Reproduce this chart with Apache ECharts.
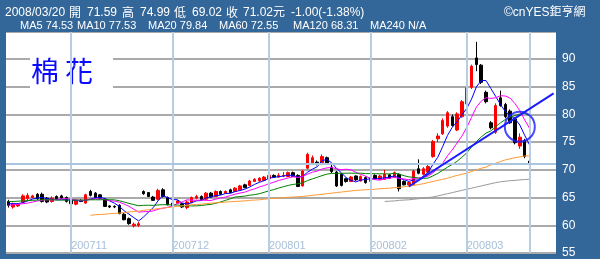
<!DOCTYPE html>
<html><head><meta charset="utf-8">
<script src="https://cdn.jsdelivr.net/npm/echarts@6/dist/echarts.min.js"></script>
<style>html,body{margin:0;padding:0;background:#336699;overflow:hidden}#c{width:600px;height:259px}</style>
</head><body><div id="c"></div><script>
const months = ['200710','200711','200712','200801','200802','200803'];
const monthDays = [13,21,20,21,20,14];
const padDays = 5;

const opens = [64.3,63.3,63.5,64.2,64.8,65.0,65.6,65.6,64.9,64.3,
65.2,65.3,65.0,64.6,63.8,64.5,64.0,66.1,65.8,65.5,
64.7,63.5,63.4,63.6,62.0,61.2,59.9,60.0,66.1,65.9,
65.1,64.7,66.4,65.0,64.0,64.0,63.9,63.2,64.1,64.9,
65.2,64.7,65.8,65.2,66.1,65.8,66.4,66.1,66.4,67.3,
67.2,67.9,68.0,68.1,68.4,69.0,68.7,68.9,68.8,69.5,
69.0,67.1,70.3,71.2,71.4,71.3,72.2,70.5,69.6,69.2,
68.4,67.9,68.9,68.0,68.6,67.9,69.0,68.3,68.3,69.1,
68.7,69.2,67.9,67.3,67.4,70.2,69.2,69.6,72.4,75.6,
76.5,77.9,79.6,77.2,79.6,81.9,84.9,90.2,88.9,84.0,
78.5,76.8,83.0,81.8,80.6,79.2,74.3,75.3,71.59];
const closes = [63.6,63.9,63.8,65.3,65.4,65.3,64.8,64.3,64.2,64.9,
64.8,64.9,64.3,63.9,64.5,64.3,65.5,65.4,65.0,64.9,
63.4,63.3,63.3,62.1,61.0,60.3,60.2,60.3,65.7,65.2,
64.5,66.3,65.2,63.7,63.5,64.4,63.3,64.2,65.0,65.2,
64.6,65.8,65.1,66.1,65.6,66.1,65.9,66.7,67.1,66.8,
68.0,68.3,68.5,68.7,69.0,68.7,69.0,69.0,69.5,68.8,
67.0,69.8,72.8,72.2,71.0,72.4,71.1,69.7,67.1,67.2,
67.9,68.7,68.2,68.8,67.7,68.6,68.4,68.9,69.2,68.5,
69.5,66.6,67.3,67.7,69.8,69.4,70.2,70.6,75.1,76.1,
78.9,80.3,78.0,80.1,82.3,84.8,88.7,89.0,85.8,82.3,
77.6,81.6,81.6,79.6,78.5,74.9,75.9,72.4,71.02];
const lows = [63.2,63.0,63.3,64.0,64.5,64.9,64.6,64.1,64.0,64.1,
64.6,64.8,64.1,63.7,63.6,64.2,63.9,65.2,64.9,64.7,
63.3,63.1,63.1,62.0,60.9,60.1,59.6,59.7,65.5,65.1,
64.4,64.5,65.0,63.6,63.3,63.9,63.1,62.9,64.0,64.7,
64.5,64.6,65.0,65.1,65.5,65.7,65.8,66.0,66.3,66.7,
67.1,67.8,67.9,68.0,68.3,68.6,68.6,68.7,68.7,68.7,
66.9,67.0,70.1,71.0,70.8,71.1,70.9,69.4,66.9,67.0,
67.7,67.8,68.0,67.9,67.5,67.8,68.3,68.2,68.2,68.4,
68.6,66.1,67.2,67.2,67.2,69.2,69.0,69.4,72.2,75.0,
76.3,77.6,77.8,77.0,79.4,81.7,84.6,87.8,85.5,82.0,
77.3,76.5,81.4,79.3,78.3,74.6,73.8,72.1,69.02];
const highs = [64.6,64.1,64.0,65.6,65.8,65.5,65.8,65.9,65.1,65.2,
65.4,65.5,65.2,64.8,64.7,64.7,65.7,66.4,66.0,65.6,
64.9,63.6,63.6,63.8,62.2,61.4,60.5,60.6,66.3,66.0,
65.3,66.6,66.7,65.2,64.2,64.6,64.1,64.5,65.2,65.5,
65.4,66.0,66.0,66.3,66.3,66.3,66.6,66.9,67.3,67.5,
68.2,68.5,68.7,68.9,69.2,69.2,69.4,69.6,69.7,69.7,
69.2,70.0,73.1,72.6,71.7,72.8,72.4,71.0,69.8,69.4,
68.6,68.9,69.0,69.0,68.8,68.8,69.2,69.1,70.0,69.3,
69.7,69.4,68.1,67.9,70.0,71.9,70.5,70.9,75.4,76.6,
79.3,80.6,80.0,80.4,82.6,85.0,89.0,93.1,89.1,84.3,
78.8,82.0,84.3,82.1,80.9,79.5,76.6,75.6,74.99];

const ma5 = [63.9,63.9,63.9,64.1,64.4,64.74,64.92,65.02,64.8,64.7,
64.6,64.62,64.62,64.56,64.48,64.38,64.5,64.72,64.94,65.02,
64.84,64.4,63.98,63.4,62.62,62.0,61.38,60.78,61.5,62.34,
63.18,64.4,65.38,64.98,64.64,64.62,64.02,63.82,64.08,64.42,
64.46,64.96,65.14,65.36,65.44,65.74,65.76,66.08,66.28,66.52,
66.9,67.38,67.74,68.06,68.5,68.64,68.78,68.88,69.04,69.0,
68.66,68.82,69.58,70.12,70.56,71.64,71.9,71.28,70.26,69.5,
68.6,68.12,67.82,68.16,68.26,68.4,68.34,68.48,68.56,68.72,
68.9,68.54,68.22,67.92,68.18,68.16,68.88,69.54,71.02,72.28,
74.18,76.2,77.68,78.68,79.92,81.1,82.78,84.98,86.12,86.12,
84.68,83.26,81.78,80.54,79.78,79.24,78.1,76.26,74.53];
const ma10 = [63.6,63.7,63.8,63.9,64.0,64.2,64.4,64.5,64.6,64.55,
64.67,64.77,64.82,64.68,64.59,64.49,64.56,64.67,64.75,64.75,
64.61,64.45,64.35,64.17,63.82,63.42,62.89,62.38,62.45,62.48,
62.59,62.89,63.08,63.24,63.49,63.9,64.21,64.6,64.53,64.53,
64.54,64.49,64.48,64.72,64.93,65.1,65.36,65.61,65.82,65.98,
66.32,66.57,66.91,67.17,67.51,67.77,68.08,68.31,68.55,68.75,
68.65,68.8,69.23,69.58,69.78,70.15,70.36,70.43,70.19,70.03,
70.12,70.01,69.55,69.21,68.88,68.5,68.23,68.15,68.36,68.49,
68.65,68.44,68.35,68.24,68.45,68.53,68.71,68.88,69.47,70.23,
71.17,72.54,73.61,74.85,76.1,77.64,79.49,81.33,82.4,83.02,
82.89,83.02,83.38,83.33,82.95,81.96,80.68,79.02,77.53];
const ma20 = [64.3,64.3,64.35,64.4,64.45,64.5,64.55,64.6,64.6,64.6,
64.55,64.55,64.55,64.55,64.55,64.55,64.55,64.6,64.6,64.6,
64.64,64.61,64.59,64.43,64.2,63.96,63.73,63.53,63.6,63.62,
63.6,63.67,63.72,63.71,63.66,63.66,63.55,63.49,63.49,63.51,
63.57,63.69,63.78,63.98,64.21,64.5,64.79,65.11,65.18,65.26,
65.43,65.53,65.7,65.95,66.22,66.44,66.72,66.96,67.19,67.37,
67.49,67.69,68.07,68.38,68.65,68.96,69.22,69.37,69.37,69.39,
69.39,69.41,69.39,69.4,69.33,69.33,69.3,69.29,69.28,69.26,
69.39,69.23,68.95,68.73,68.67,68.52,68.47,68.52,68.92,69.36,
69.91,70.49,70.98,71.55,72.28,73.09,74.1,75.11,75.94,76.63,
77.03,77.78,78.5,79.09,79.53,79.8,80.09,80.18,79.84];
const ma60Start = 17;
const ma60 = [61.8,61.9,61.95,62.0,62.1,62.15,62.2,62.3,62.4,62.5,
62.55,62.7,62.8,62.9,63.0,63.1,63.2,63.3,63.4,63.5,
63.6,63.7,63.75,63.8,63.9,64.0,64.05,64.1,64.2,64.25,
64.3,64.35,64.4,64.5,64.55,64.6,64.7,64.8,64.85,64.9,
65.0,65.05,65.1,65.15,65.2,65.3,65.4,65.5,65.6,65.7,
65.8,65.9,66.0,66.1,66.2,66.3,66.35,66.4,66.45,66.5,
66.6,66.65,66.7,66.8,66.85,66.95,67.05,67.2,67.35,67.5,
67.7,67.9,68.1,68.3,68.5,68.75,69.0,69.2,69.4,69.7,
70.0,70.3,70.5,70.9,71.2,71.5,71.8,72.0,72.2,72.35,
72.5,72.55];
const ma120Start = 78;
const ma120 = [64.3,64.35,64.4,64.5,64.55,64.6,64.7,64.8,64.9,65.0,
65.1,65.3,65.5,65.7,65.9,66.1,66.3,66.5,66.7,66.9,
67.1,67.3,67.5,67.7,67.85,67.95,68.05,68.1,68.2,68.25,68.31];

const lastClose = 71.02;
const trendIdx = [83, 113];
const trendVal = [67.0, 83.8];
const circleIdx = 106;
const circleVal = 77.8;

const yTicks = {min: 55, max: 90, step: 5};

// build categories
const categories = [];
const monthStartIdx = [];
months.forEach((m, mi) => {
  if (mi > 0) monthStartIdx.push(categories.length);
  for (let k = 1; k <= monthDays[mi]; k++) categories.push(m + '-' + k);
});
for (let k = 1; k <= padDays; k++) categories.push('pad-' + k);
const lastIdx = opens.length - 1;

const candleData = opens.map((o, i) => [o, closes[i], lows[i], highs[i]]);
const padLead = (arr, n) => Array(n).fill('-').concat(arr);

const chart = echarts.init(document.getElementById('c'), null, {renderer: 'canvas'});
const hdrFont = '12px "Liberation Sans", "Noto Sans CJK TC", sans-serif';
const cjkFont = '12px "Noto Sans CJK TC", sans-serif';
const maFont = '11px "Liberation Sans", sans-serif';
function txt(x, y, s, font, fill, z) {
  return {type: 'text', x: x, y: y, z: z || 11, silent: true,
    style: {text: s, font: font, fill: fill || '#fff', verticalAlign: 'middle', align: 'left'}};
}
const guideLines = monthStartIdx.map(i => ({xAxis: categories[i], lineStyle: {color: '#b6cde3', width: 2, type: 'solid'}}));
guideLines.push({xAxis: categories[lastIdx], lineStyle: {color: '#b6cde3', width: 2, type: 'solid'}});
guideLines.push({yAxis: lastClose, lineStyle: {color: '#a9c5df', width: 2, type: 'solid'}});

const maLine = (name, data, color, z) => ({
  name: name, type: 'line', data: data, symbol: 'none', showSymbol: false, z: z || 4,
  lineStyle: {color: color, width: 1}, itemStyle: {color: color}, connectNulls: false, silent: true
});

chart.setOption({
  animation: false,
  backgroundColor: '#336699',
  grid: {left: 6, right: 44, top: 31, bottom: 4, show: true, backgroundColor: '#ffffff', borderWidth: 0},
  xAxis: {
    type: 'category', data: categories, boundaryGap: true, z: 0,
    axisLine: {show: false}, axisTick: {show: false}, splitLine: {show: false},
    axisLabel: {
      inside: true, margin: 2, color: '#a7bfd8', fontSize: 11, fontFamily: 'Liberation Sans', align: 'left',
      interval: (idx) => monthStartIdx.includes(idx),
      formatter: (v) => v.split('-')[0]
    }
  },
  yAxis: {
    type: 'value', position: 'right', min: yTicks.min, max: 95.06, interval: yTicks.step, z: 0,
    axisLine: {show: false}, axisTick: {show: false},
    axisLabel: {color: '#ffffff', fontSize: 12, margin: 6, fontFamily: 'Liberation Sans',
      formatter: (v) => (v > yTicks.max + 0.5 ? '' : String(v))},
    splitLine: {lineStyle: {color: '#aaaaaa', width: 2}}
  },
  series: [
    {type: 'line', data: [], z: 2, silent: true, symbol: 'none',
      markLine: {silent: true, symbol: 'none', label: {show: false}, animation: false, data: guideLines}},
    {type: 'candlestick', data: candleData, barWidth: 3, z: 3, silent: true,
      itemStyle: {color: '#ff0000', color0: '#000000', borderColor: '#ff0000', borderColor0: '#000000', borderWidth: 1}},
    maLine('MA5', ma5, '#0000ff'),
    maLine('MA10', ma10, '#ff00ff'),
    maLine('MA20', ma20, '#008000'),
    maLine('MA60', padLead(ma60, ma60Start), '#ff9933'),
    maLine('MA120', padLead(ma120, ma120Start), '#999999'),
    {type: 'line', data: trendIdx.map((x, i) => [x, trendVal[i]]), symbol: 'none', z: 5, silent: true,
      lineStyle: {color: '#1a1aff', width: 2}},
    {type: 'scatter', data: [[circleIdx, circleVal]], symbol: 'circle', symbolSize: 30, z: 5, silent: true,
      itemStyle: {color: 'rgba(0,0,0,0)', borderColor: '#1a1aff', borderWidth: 2}}
  ],
  graphic: [
    {type: 'rect', silent: true, z: 1, shape: {x: 30, y: 48, width: 83, height: 46}, style: {fill: '#ffffff'}},
    txt(31, 71, '棉', '28px "Noto Sans CJK TC", sans-serif', '#0a0aff', 1),
    txt(65, 71, '花', '28px "Noto Sans CJK TC", sans-serif', '#0a0aff', 1),
    {type: 'rect', silent: true, z: 10, shape: {x: 0, y: 0, width: 600, height: 32}, style: {fill: '#336699'}},
    txt(5, 12.5, '2008/03/20', hdrFont),
    txt(69, 12.5, '開', cjkFont),
    txt(87, 12.5, '71.59', hdrFont),
    txt(122, 12.5, '高', cjkFont),
    txt(140, 12.5, '74.99', hdrFont),
    txt(174, 12.5, '低', cjkFont),
    txt(192, 12.5, '69.02', hdrFont),
    txt(226, 12.5, '收', cjkFont),
    txt(243, 12.5, '71.02元', hdrFont),
    txt(291, 12.5, '-1.00(-1.38%)', hdrFont),
    txt(504, 13, '©cnYES鉅亨網', hdrFont),
    txt(20, 25.5, 'MA5 74.53', maFont),
    txt(77, 25.5, 'MA10 77.53', maFont),
    txt(148, 25.5, 'MA20 79.84', maFont),
    txt(219, 25.5, 'MA60 72.55', maFont),
    txt(293, 25.5, 'MA120 68.31', maFont),
    txt(370, 25.5, 'MA240 N/A', maFont)
  ]
});
</script></body></html>
